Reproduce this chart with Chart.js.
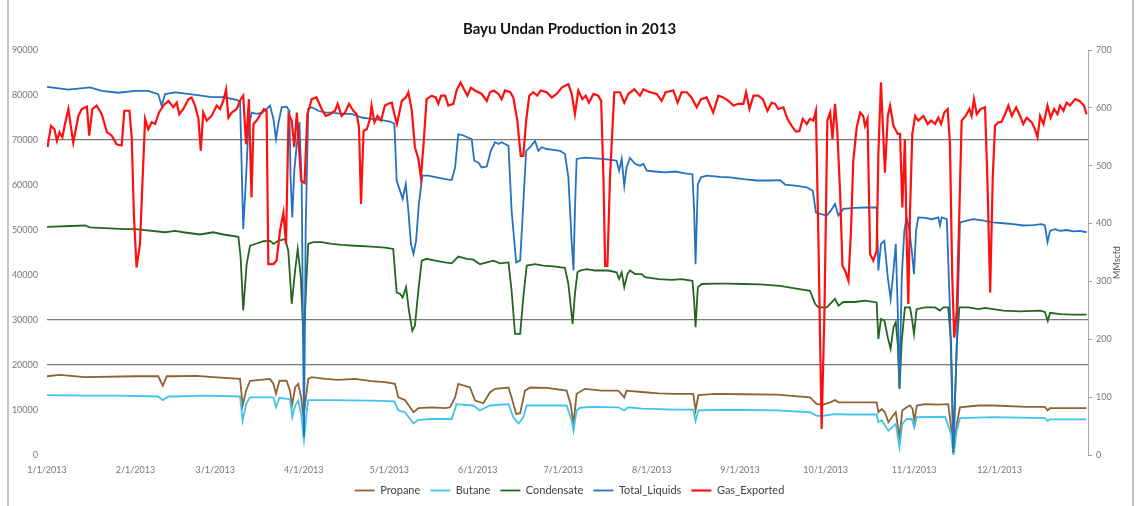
<!DOCTYPE html>
<html>
<head>
<meta charset="utf-8">
<script src="https://cdn.jsdelivr.net/npm/chart.js@4.4.1/dist/chart.umd.min.js"></script>
<style>
  html, body { margin: 0; padding: 0; background: #ffffff; }
  #wrap { position: relative; width: 1139px; height: 506px; }
  canvas { display: block; }
</style>
</head>
<body>
<div id="wrap"><canvas id="c" width="1139" height="506"></canvas></div>
<script>
// ---- Axis labels ----
const monthStartDays = [0, 31, 59, 90, 120, 151, 181, 212, 243, 273, 304, 334];
const monthLabels = ['1/1/2013','2/1/2013','3/1/2013','4/1/2013','5/1/2013','6/1/2013','7/1/2013','8/1/2013','9/1/2013','10/1/2013','11/1/2013','12/1/2013'];
const seriesNames = ['Propane', 'Butane', 'Condensate', 'Total_Liquids', 'Gas_Exported'];

// ---- Propane (bbl/d) ----
const propaneDays = [0,4.5,13.3,30.9,39,40.6,42,44.9,52.5,58.3,67.7,68.6,69.8,71.2,78.2,79.4,80.3,81.5,84,85.2,85.9,87,88.1,89.1,89.9,91.1,91.6,92.8,97.5,102,108,113.8,118.5,122,123.2,125.5,127.3,128.5,130.2,134.9,139.6,141.3,143.1,144.2,148.3,150.1,153,155.3,157.1,161.8,162.9,164.5,165.9,167.6,169.4,175.2,182.2,183.6,184.6,185.7,188.6,194.5,200.3,202.4,203.2,208.5,214.4,220.2,226.6,227.4,228.4,234.2,244.2,255.9,267.5,269.9,272.2,274.6,276.3,277.5,281.6,290.9,291.5,292.7,293.8,295,296.2,297.6,298.9,299.9,301.4,302.6,303.5,304.1,305,307.9,312.5,316,317,317.8,319,320.1,326.6,331.8,343.5,349.9,350.8,351.7,364.5];
const propaneValues = [17500,17800,17300,17500,17500,15400,17500,17500,17600,17300,16900,11000,14300,16500,16900,15800,13600,16500,16500,14300,11000,15000,15800,12800,8400,14300,16900,17300,16900,16700,16900,16400,16200,15800,12800,12200,10600,9500,10400,10600,10400,10600,12800,15800,15000,12100,11500,13900,14700,15000,12800,9100,9300,14300,15000,14900,14300,11300,6900,13600,14700,14300,14300,12800,14300,14000,13700,13600,13600,9900,13300,13600,13500,13400,12800,11300,11200,11700,12200,11700,11700,11700,9500,10200,9500,7300,8400,9500,3900,9900,10600,11000,10200,7600,11000,11300,11200,11300,6100,600,6900,10600,11000,11000,10700,10700,9900,10400,10400];

// ---- Butane (bbl/d) ----
const butaneDays = [0,13.3,25,39,40.6,42.6,44.9,54.8,67.7,68.6,69.8,71.2,79.4,80.3,81.5,85.2,86,87,88.1,89.1,90.1,91.1,91.6,99.8,113.8,121.8,123.2,125.5,127.3,128.5,130.2,134.9,141.9,143.6,149.5,151.8,155.3,161.8,163.5,165.3,167,168.2,182.2,184,184.6,185.7,186.9,191,200.3,202.4,203.8,208.5,220.2,226.6,227.4,228.4,234.2,244.2,255.9,267.5,269.9,272.2,275.8,281.6,290.9,291.5,292.7,295,296.2,297.6,298.9,299.9,301.4,303.2,304.1,305,314.9,317,317.8,319,320.1,331.8,349.9,350.8,351.7,364.5];
const butaneValues = [13300,13200,13200,13000,12200,13000,13000,13200,13000,7600,11300,12800,12800,10600,12700,12400,8400,11000,12100,9100,3200,9900,12200,12200,12100,11900,9900,9500,8000,7000,7800,8000,8000,11300,11000,9900,11000,11300,8400,7000,8400,11000,11000,7600,5400,9900,10500,10700,10600,9900,10600,10300,10100,10100,7600,9900,10000,10000,9900,9500,8700,8700,9100,9000,9000,7300,7700,5400,6100,6900,1700,6900,8000,8000,6100,8400,8500,4700,0,5400,8200,8400,8200,7600,7900,7900];

// ---- Condensate (bbl/d) ----
const condensateDays = [0,13.3,15,27.3,30.9,41.4,44.9,47.8,53.6,58.3,61.8,67.1,67.9,68.8,70,71.2,73.5,75.9,78.2,79.4,81.1,83.5,84.6,85.8,87,87.9,89,90,91,91.6,93.4,96.3,99.8,103.3,108,113.8,118.5,121.4,122.6,123.8,124.7,125.9,126.9,128.1,129,130.2,131.4,133.1,136.1,139.6,141.9,144.2,147.2,149.5,151.8,154.2,156.5,158.9,161.8,162.9,164.1,165.9,167,168.2,171.1,174,177.5,181.6,182.8,184.3,185.1,186,186.9,189.2,192.1,196.8,199.7,200.6,201.5,202.4,203.5,204.4,206.2,208.5,209.7,214.4,219,222.5,226.3,226.9,227.4,228.2,229.6,234.2,238.3,244.2,250,257,261.7,267.5,269.3,270.5,273.4,275.1,276.3,277.5,279.2,283.3,286.8,290.9,291.5,292.4,293.6,294.8,295.8,296.8,297.6,298.3,298.9,299.7,300.8,302.6,303.2,304,304.9,307.9,311.4,313.1,314.3,316,317,317.8,319,319.9,323.1,326.6,328.9,335.3,341.2,348.2,349.9,350.9,351.7,355.2,359.9,364.5];
const condensateValues = [50700,51000,50600,50200,50200,49500,49800,49500,49000,49500,49000,48500,43900,32100,42400,46500,47000,47500,47600,46900,47600,48000,45400,33600,41000,45800,39500,24700,39500,46900,47300,47300,46900,46700,46500,46300,46100,45800,36100,35800,35000,37300,32100,27600,28700,36500,43200,43600,43200,42800,42600,44100,43600,43400,42400,42800,43200,42600,42800,36500,26900,26900,35000,42100,42400,42100,41900,41600,38000,29100,35800,40600,41000,41300,41000,41000,40600,39100,40600,37300,40200,41000,40200,40200,39500,39100,38900,39100,38700,34300,28400,37300,38000,38100,38100,38000,37900,37600,37100,36500,33600,32800,32800,33900,34700,33200,34000,34000,34300,33900,25800,30200,29900,26100,23600,28400,29500,24700,14700,25400,32800,32800,30600,26900,32400,32800,32800,32100,32800,32800,24700,1500,24700,32800,32800,32400,32700,32100,31900,32100,31800,29800,31600,31300,31200,31200];

// ---- Total_Liquids (bbl/d) ----
const liquidsDays = [0,7.5,15.1,19.2,25,30.9,35.5,39,40.2,41.4,44.9,50.1,57.2,61.8,66.5,67.7,68.8,69.8,70.6,71.8,73.5,75.5,77,78.2,79.4,80.3,81.1,82.3,84,85,85.4,86,86.7,87.6,88.5,89.3,90.1,90.7,91.6,92.8,95.1,97.5,99.8,103.3,106.8,110.3,113.8,117.4,120.3,121.8,122.6,123.8,124.7,125.8,126.7,127.6,128.5,129.4,130.4,131.6,133.7,136.6,139.6,141.9,143.1,144.2,146,148.9,149.8,151.2,152.4,154.2,155.6,157.1,158.3,159.4,160.6,161.8,162.9,164.5,165.9,167,168,169.4,171.1,172.3,173.5,175.2,177.5,179.9,181.6,182.8,184,184.6,185.1,185.7,188.6,194.5,198,199.7,200.6,201.5,202.4,203.2,204.4,206.2,207.9,209.1,210.3,213.2,216.7,220.2,223.7,226.3,226.9,227.4,228.2,229.3,231.3,236,239.5,244.2,248.8,253.5,257,258.8,262.9,266.4,268.5,269.6,271.1,273.4,274.8,276.3,277.5,279.2,283.3,286.8,290.9,291.5,292.4,293.6,294.8,295.8,296.8,297.6,298.3,298.9,299.7,300.6,301.4,302.4,303.2,304,304.7,305.5,307.9,310.2,312.5,313.1,313.7,315.5,316.6,317.8,319,320.1,322.5,324.8,328.3,331.8,335.3,338.8,342.3,345.8,348.8,349.9,350.8,351.7,353.4,355.2,357.5,359.9,362.2,364.5];
const liquidsValues = [81800,81200,81700,80900,80500,80900,80900,80200,77600,80200,80600,80200,79600,79500,78900,78500,50200,61700,72800,76100,75800,76100,76900,77600,74700,70200,73600,77300,77400,76500,61700,52800,63200,69100,74000,60200,4000,50000,76900,77300,76500,76100,76100,75800,75800,75000,74700,74400,74100,73600,61000,58700,56900,60200,54300,46900,44700,47600,55800,62100,62100,61700,61300,61100,63900,71300,71000,70200,65400,65000,63900,64100,67600,69500,69100,69500,69100,68700,54300,42800,43200,55800,67600,68400,69800,67600,68400,68000,67800,67600,66900,61700,46900,41000,54300,65800,66100,65800,65600,65400,63200,65800,59800,63900,66000,64700,64300,64700,63200,63000,62800,63000,62600,62400,54300,42400,60200,61700,62100,61800,61700,61300,61000,61000,61100,60100,59800,59500,58700,53900,53600,53200,54300,55800,53200,54700,54900,55000,55000,41000,46900,47600,39500,34700,41000,46900,32100,15000,39500,49800,52800,49800,45400,40200,49800,52800,52700,52400,52800,51000,52800,52400,32100,500,24700,51700,52100,52400,52100,51700,51500,51300,51000,51100,51300,51000,47300,49800,50200,49800,50000,49700,49800,49500];

// ---- Gas_Exported (MMscfd, right axis) ----
const gasDays = [0.2,1.4,2.6,3.5,4.4,5.4,6.3,7.5,9.2,11,12.2,14,14.8,15.9,17.4,19.2,21,22.7,24.4,26.2,27.1,28.9,29.7,30.5,31.4,32.6,33.4,34.4,35.5,36.7,37.9,39.3,40.8,42.6,44.3,45.5,46.4,47.8,49.6,50.7,51.9,53.1,53.9,54.8,56,57.7,59.5,60.7,61.8,62.8,63.6,64.8,66.5,67.9,68.8,69.8,70.8,71.7,72.4,73.5,74.5,76.1,77,77.6,79.4,80.5,81.7,82.9,83.8,84.7,85.8,86.7,87.6,89.1,90.3,91.3,92.8,94.5,96.3,97.7,99.2,101,101.9,103.3,104.5,105.9,107.4,108.6,109.4,110.1,111,112.1,113.3,113.8,114.8,115.9,117.1,118.5,119.7,120.9,121.8,122.7,124.4,125.8,126.7,127.9,129,130.2,131.1,132,133.1,134.9,136.3,137.2,138.2,139.6,140.7,142.5,143.6,145,146.2,147.4,148.6,150.1,152.4,154.2,155.3,156.7,158.3,159.4,160.6,162.4,163.5,164.9,166.1,167,168,169.1,170.5,171.9,173.1,175.2,177,178.7,180.5,182.8,184,185.1,186.3,187.7,188.9,190,191.6,193.3,194.3,195.1,195.7,196.5,197.4,198.9,200.9,202.4,203.8,205.9,207.9,209.1,211.4,213.8,215.5,216.9,219.6,221.1,222.5,224.3,226,227.8,229.3,231.3,233.6,235.4,237.1,238.9,240.7,242.4,244.2,245.1,246.3,247.7,249.4,251,252.6,254.1,255.3,256.4,258.2,259.6,261.1,262.6,263.8,265,266.4,267.5,268.7,269.6,270.5,271.6,272.6,273.6,274.6,275.4,276.3,277.1,278.1,278.9,279.8,281,281.9,282.7,283.9,285.1,286.2,286.8,287.7,288.6,289.7,290.9,291.5,292.4,293.2,293.8,294.8,295.6,296.8,298.3,299.1,299.9,300.8,301.4,302,302.6,303.4,304.4,305.5,307.3,308.8,310,311.4,312.5,313.5,314.6,315.8,316.6,317.4,318.1,319,319.9,320.7,322.1,323.4,324.2,325,326,327.4,328.9,329.7,330.7,331.6,332.4,333.6,334.7,335.9,337.1,338.3,339.8,341.2,342.3,343.5,345.3,346.4,347.3,348.2,349.4,350.8,351.9,353.1,354.3,355.2,356.4,357.5,358.7,360.5,362,363.6,364.5];
const gasValues = [532,569,563,543,558,549,572,598,540,586,598,602,552,598,604,589,558,552,537,535,595,595,549,411,324,365,463,581,563,575,572,592,604,612,601,609,589,598,615,618,604,581,526,592,578,586,604,598,612,632,583,592,598,615,621,537,615,445,572,578,586,598,595,330,330,336,388,419,365,589,578,532,592,474,470,589,615,618,598,586,589,595,607,586,592,607,595,589,566,434,560,563,581,604,575,586,578,604,607,609,589,572,612,618,627,595,532,512,480,535,615,621,618,607,621,621,604,607,630,644,632,621,635,630,624,612,627,630,624,615,630,627,618,578,517,517,578,621,627,621,630,627,618,624,635,641,624,589,630,615,621,609,624,621,612,480,327,327,480,627,627,609,624,632,621,632,627,624,612,627,630,609,627,627,618,601,615,618,592,621,618,612,604,607,607,627,598,621,621,615,595,609,607,598,601,581,569,559,560,581,572,581,578,595,365,45,249,578,592,546,607,560,451,327,319,301,388,509,566,592,586,569,581,347,336,353,520,644,555,488,586,604,569,555,555,428,546,376,261,422,555,586,578,586,572,578,572,583,572,592,598,537,307,203,249,422,578,586,598,586,615,589,598,601,480,281,480,569,575,576,589,604,586,601,586,572,583,575,563,549,586,572,604,583,598,589,604,595,609,604,615,612,604,589];

const toPoints = (days, vals) => days.map((d, i) => ({ x: d, y: vals[i] }));

const fontFamily = "Lato, 'Liberation Sans', sans-serif";

const framePlugin = {
  id: 'frame',
  beforeDraw(chart) {
    const ctx = chart.ctx;
    ctx.save();
    ctx.fillStyle = '#ffffff';
    ctx.fillRect(0, 0, chart.width, chart.height);
    ctx.strokeStyle = '#c4c4c4';
    ctx.lineWidth = 2;
    ctx.beginPath();
    ctx.moveTo(8, 0); ctx.lineTo(8, chart.height);
    ctx.moveTo(1133, 0); ctx.lineTo(1133, chart.height);
    ctx.stroke();
    ctx.restore();
  },
  afterDraw(chart) {
    const ctx = chart.ctx;
    const y2 = chart.scales.y2;
    ctx.save();
    ctx.translate(1117, (y2.top + y2.bottom) / 2 + 10);
    ctx.rotate(-Math.PI / 2);
    ctx.fillStyle = '#555555';
    ctx.font = "9px " + fontFamily;
    ctx.textAlign = 'center';
    ctx.textBaseline = 'middle';
    ctx.fillText('MMscfd', 0, 0);
    ctx.restore();
  }
};

const ds = (label, data, color, width, order, axis) => ({
  label, data, borderColor: color, backgroundColor: color,
  borderWidth: width, pointRadius: 0, tension: 0, fill: false,
  order, yAxisID: axis
});

new Chart(document.getElementById('c'), {
  type: 'line',
  data: {
    datasets: [
      ds(seriesNames[0], toPoints(propaneDays, propaneValues), '#8f6232', 1.8, 5, 'y'),
      ds(seriesNames[1], toPoints(butaneDays, butaneValues), '#40c4ee', 1.8, 4, 'y'),
      ds(seriesNames[2], toPoints(condensateDays, condensateValues), '#22661f', 1.8, 3, 'y'),
      ds(seriesNames[3], toPoints(liquidsDays, liquidsValues), '#2472c0', 1.8, 2, 'y'),
      ds(seriesNames[4], toPoints(gasDays, gasValues), '#ff1010', 2.2, 1, 'y2')
    ]
  },
  options: {
    responsive: false,
    animation: false,
    layout: { padding: 0 },
    plugins: {
      title: {
        display: true,
        text: 'Bayu Undan Production in 2013',
        color: '#111111',
        font: { family: fontFamily, size: 15, weight: 'bold' },
        padding: { top: 20, bottom: 12 }
      },
      legend: {
        display: true,
        position: 'bottom',
        labels: {
          usePointStyle: true,
          pointStyle: 'line',
          pointStyleWidth: 20,
          boxHeight: 10,
          padding: 10,
          color: '#404040',
          font: { family: fontFamily, size: 11 },
          sort: (a, b) => a.datasetIndex - b.datasetIndex
        }
      },
      tooltip: { enabled: false }
    },
    scales: {
      x: {
        type: 'linear',
        min: 0,
        max: 365,
        afterBuildTicks: (scale) => { scale.ticks = monthStartDays.map(v => ({ value: v })); },
        afterFit: (scale) => { scale.height = 20; },
        ticks: {
          autoSkip: false,
          maxRotation: 0,
          padding: 2,
          color: '#777777',
          font: { family: fontFamily, size: 9 },
          callback: (value) => { const i = monthStartDays.indexOf(value); return i >= 0 ? monthLabels[i] : ''; }
        },
        grid: { display: false },
        border: { display: false }
      },
      y: {
        position: 'left',
        min: 0,
        max: 90000,
        afterFit: (scale) => { scale.width = 47; },
        ticks: {
          stepSize: 10000,
          padding: 9,
          color: '#777777',
          font: { family: fontFamily, size: 9 },
          callback: (value) => String(value)
        },
        grid: {
          drawTicks: false,
          lineWidth: 1.2,
          color: (c) => ([20000, 30000, 70000].includes(c.tick && c.tick.value) ? '#7a7a7a' : 'rgba(0,0,0,0)')
        },
        border: { display: false }
      },
      y2: {
        position: 'right',
        min: 0,
        max: 700,
        afterFit: (scale) => { scale.width = 51; },
        ticks: {
          stepSize: 100,
          padding: 4,
          color: '#777777',
          font: { family: fontFamily, size: 9 },
          callback: (value) => String(value)
        },
        grid: { drawOnChartArea: false, drawTicks: true, tickLength: 4, color: '#9a9a9a' },
        border: { display: true, color: '#a8a8a8', width: 1 }
      }
    }
  },
  plugins: [framePlugin]
});
</script>
</body>
</html>
